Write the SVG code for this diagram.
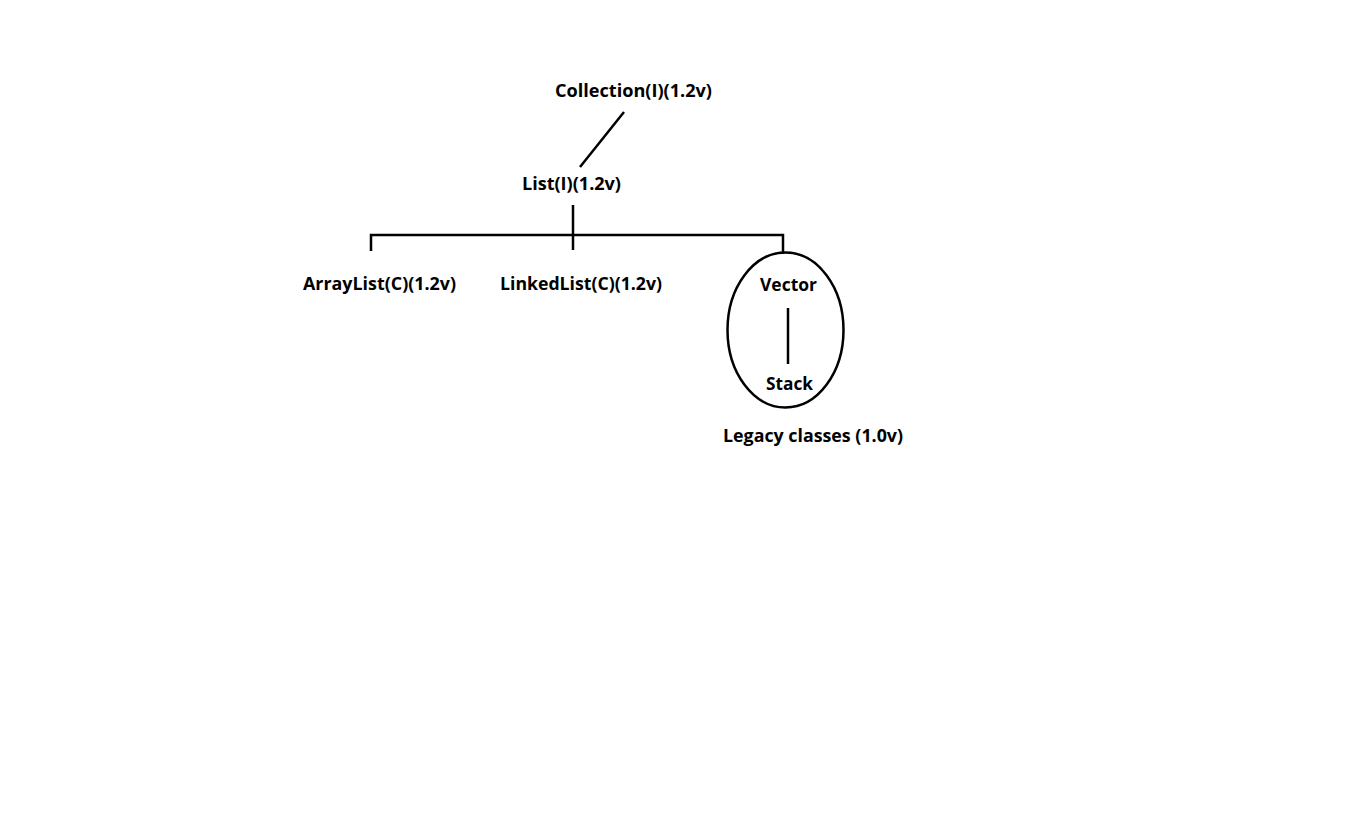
<svg xmlns="http://www.w3.org/2000/svg" width="1358" height="831" viewBox="0 0 1358 831">
<style>
text{font-family:"Open Sans","Noto Sans","Liberation Sans",sans-serif;font-weight:bold;font-size:17px;fill:#000}
.ln{stroke:#000;stroke-width:2.5;fill:none;stroke-linecap:butt}
</style>
<rect width="1358" height="831" fill="#fff"/>
<g id="connectors">
<line class="ln" x1="624" y1="112" x2="580" y2="167"/>
<line class="ln" x1="573" y1="205" x2="573" y2="250" stroke-width="3"/>
<polyline class="ln" points="371,251 371,235 783,235 783,254" stroke-width="3"/>
<line class="ln" x1="788" y1="308" x2="788" y2="364"/>
</g>
<g id="collection"><text x="555" y="97" textLength="157" lengthAdjust="spacingAndGlyphs">Collection(I)(1.2v)</text></g>
<g id="list"><text x="522" y="190" textLength="99" lengthAdjust="spacingAndGlyphs">List(I)(1.2v)</text></g>
<g id="arraylist"><text x="303" y="290" textLength="153" lengthAdjust="spacingAndGlyphs">ArrayList(C)(1.2v)</text></g>
<g id="linkedlist"><text x="500" y="290" textLength="162" lengthAdjust="spacingAndGlyphs">LinkedList(C)(1.2v)</text></g>
<g id="legacy">
<ellipse cx="785.5" cy="330" rx="58" ry="77.5" class="ln" stroke-width="2"/>
<text x="760" y="291" textLength="57" lengthAdjust="spacingAndGlyphs">Vector</text>
<text x="766" y="390" textLength="47" lengthAdjust="spacingAndGlyphs">Stack</text>
<text x="723" y="442" textLength="180" lengthAdjust="spacingAndGlyphs">Legacy classes (1.0v)</text>
</g>
</svg>
